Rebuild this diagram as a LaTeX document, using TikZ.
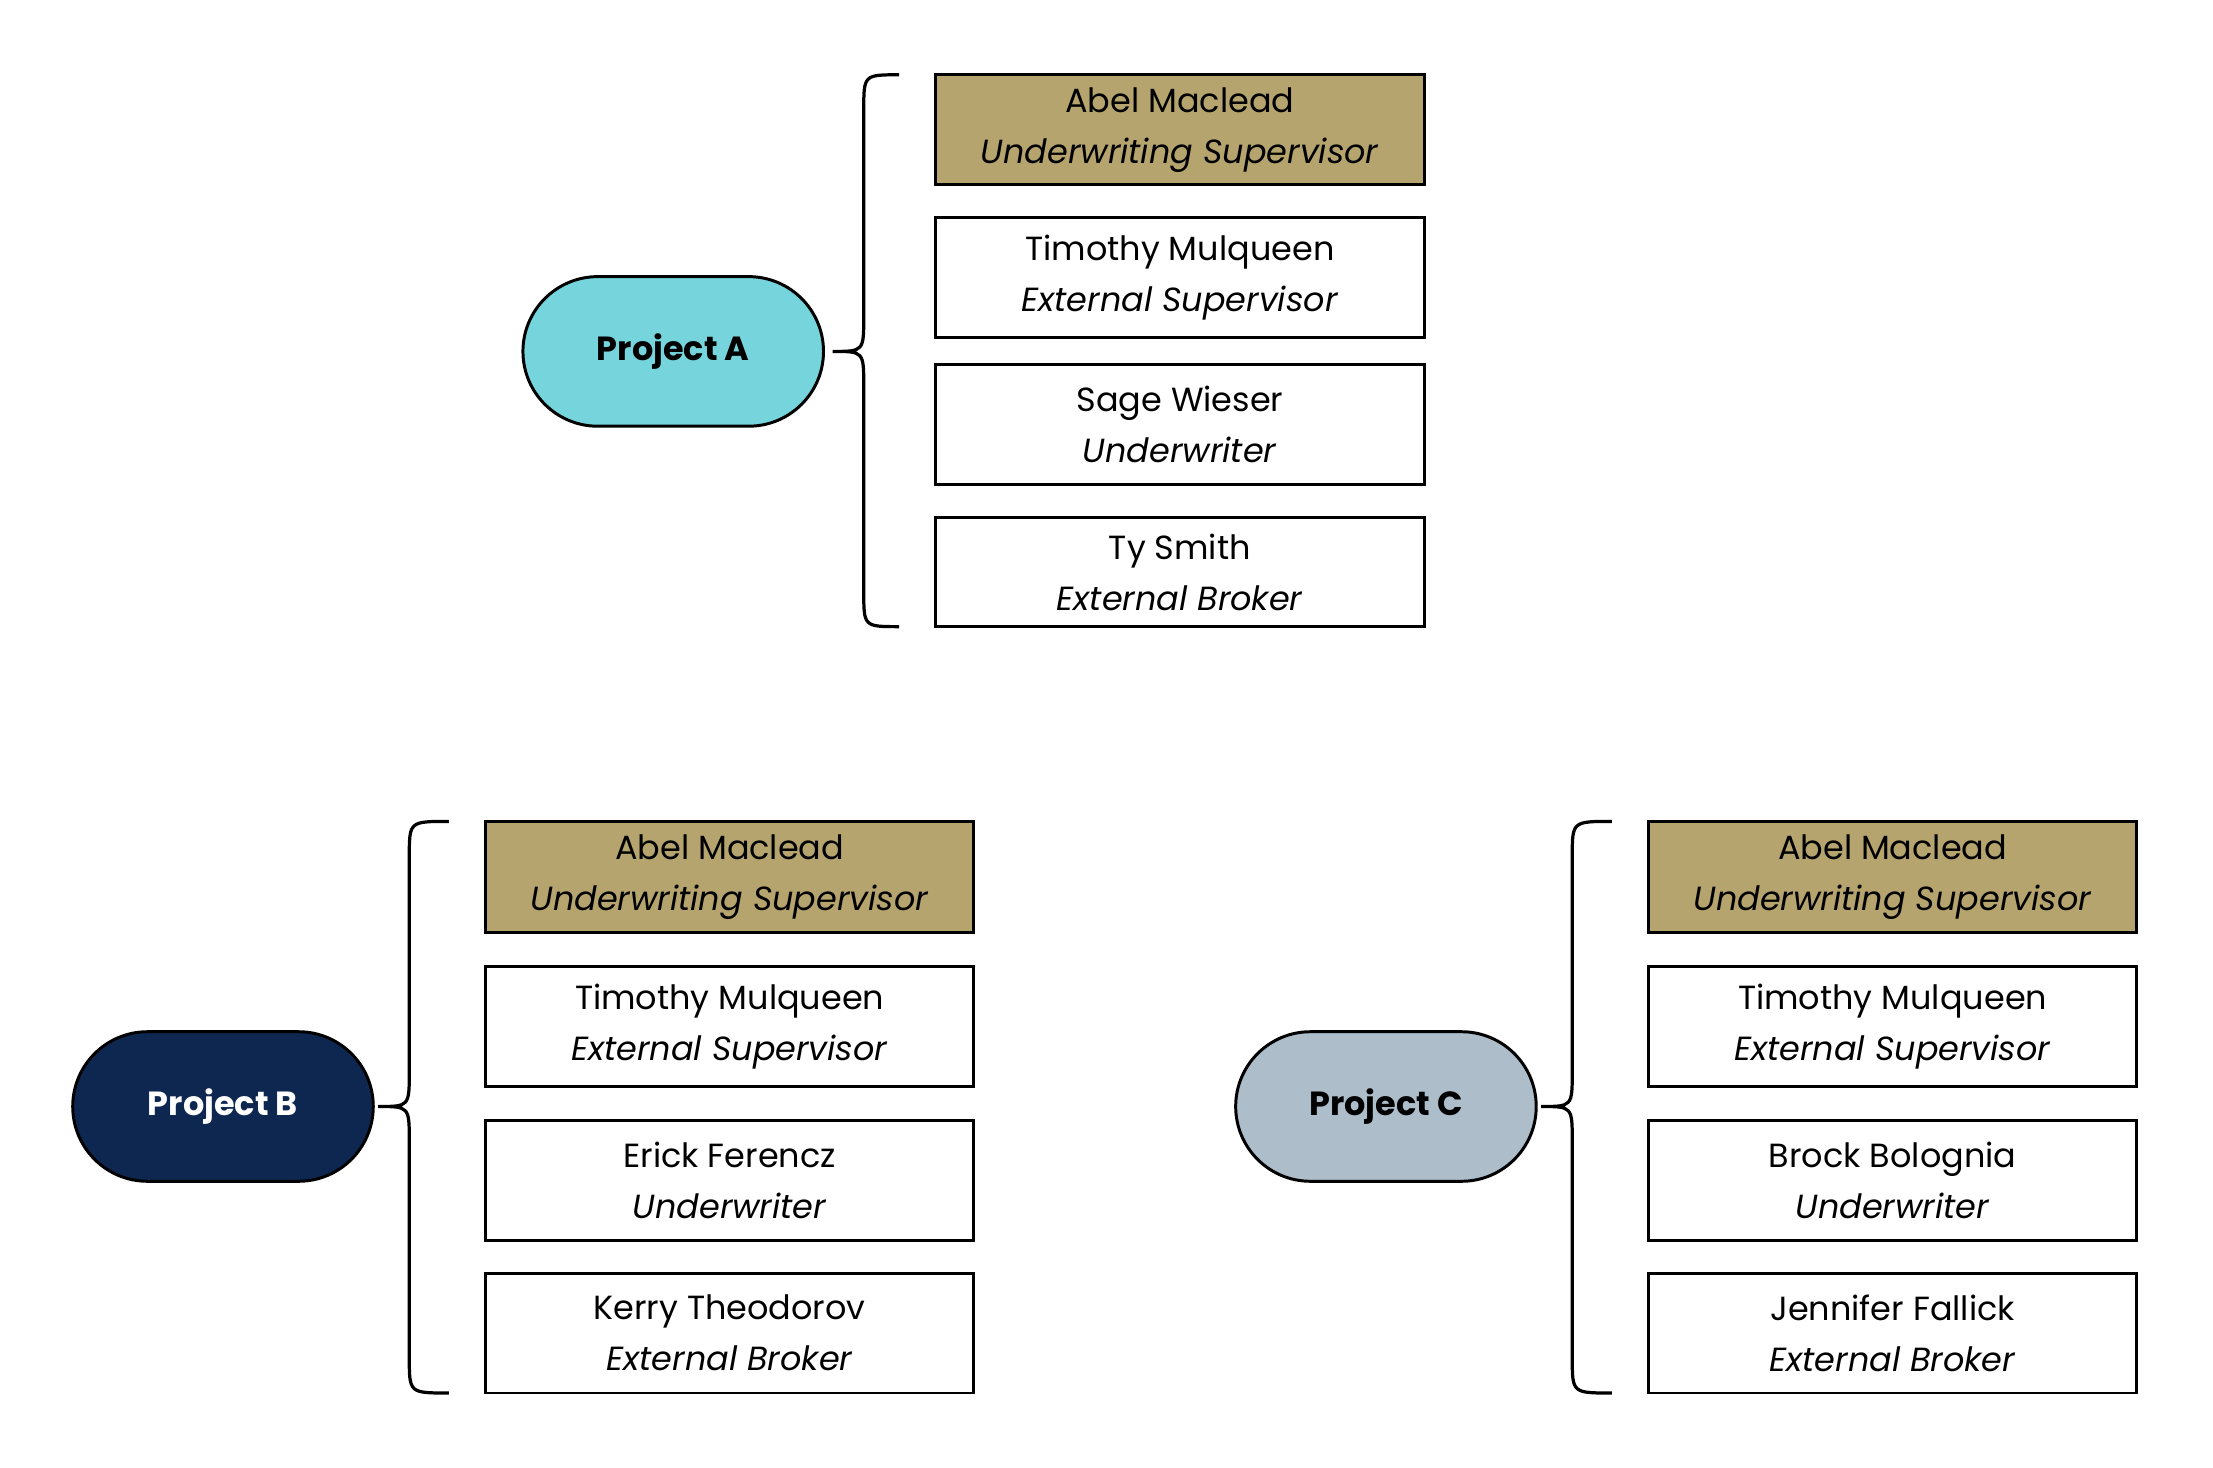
\documentclass[tikz,border=0pt]{standalone}
\usepackage{fontspec}
\setmainfont{Poppins}
\definecolor{gold}{HTML}{B5A46E}
\definecolor{cyanA}{HTML}{76D5DC}
\definecolor{navyB}{HTML}{0E2750}
\definecolor{greyC}{HTML}{ADBDCA}
\newcommand{\mybrc}[5]{% xl xr ytop ybot ymid
\draw[line width=1.3pt] (#2,#3) .. controls ({#1+22},#3) .. ({#1+22},{#3+25}) -- ({#1+22},{#5-25}) .. controls ({#1+22},#5) .. (#1,#5) .. controls ({#1+22},#5) .. ({#1+22},{#5+25}) -- ({#1+22},{#4-25}) .. controls ({#1+22},#4) .. (#2,#4);}
\begin{document}
\begin{tikzpicture}[x=0.02cm,y=-0.02cm,
 every node/.style={font=\fontsize{13.5}{20.5}\selectfont},
 box/.style={draw,line width=1.2pt,minimum width=6.92cm,align=center,inner sep=0pt},
 sup/.style={box,fill=gold},
 proj/.style={draw,line width=1.2pt,rounded corners=1.06cm,minimum width=4.26cm,minimum height=2.12cm,font=\fontsize{13.5}{16}\selectfont\bfseries}]
\useasboundingbox (0,0) rectangle (1568,1040);
% Project A
\node[proj,fill=cyanA] (pa) at (477,249) {Project A};
\node[sup,minimum height=1.56cm] (a1) at (836,92) {Abel Maclead\\\textit{Underwriting Supervisor}};
\node[box,minimum height=1.7cm] (a2) at (836,196.5) {Timothy Mulqueen\\\textit{External Supervisor}};
\node[box,minimum height=1.7cm] (a3) at (836,300.5) {Sage Wieser\\\textit{Underwriter}};
\node[box,minimum height=1.54cm] (a4) at (836,405.5) {Ty Smith\\\textit{External Broker}};
\mybrc{590}{637}{53}{444}{249}
% Project B
\node[proj,fill=navyB,text=white] (pb) at (158,784) {Project B};
\node[sup,minimum height=1.58cm] (b1) at (517,621.5) {Abel Maclead\\\textit{Underwriting Supervisor}};
\node[box,minimum height=1.7cm] (b2) at (517,727.5) {Timothy Mulqueen\\\textit{External Supervisor}};
\node[box,minimum height=1.7cm] (b3) at (517,836.5) {Erick Ferencz\\\textit{Underwriter}};
\node[box,minimum height=1.7cm] (b4) at (517,944.5) {Kerry Theodorov\\\textit{External Broker}};
\mybrc{268}{318}{582}{987}{784}
% Project C
\node[proj,fill=greyC] (pc) at (982,784) {Project C};
\node[sup,minimum height=1.58cm] (c1) at (1341,621.5) {Abel Maclead\\\textit{Underwriting Supervisor}};
\node[box,minimum height=1.7cm] (c2) at (1341,727.5) {Timothy Mulqueen\\\textit{External Supervisor}};
\node[box,minimum height=1.7cm] (c3) at (1341,836.5) {Brock Bolognia\\\textit{Underwriter}};
\node[box,minimum height=1.7cm] (c4) at (1341,944.5) {Jennifer Fallick\\\textit{External Broker}};
\mybrc{1092}{1142}{582}{987}{784}
\end{tikzpicture}
\end{document}
